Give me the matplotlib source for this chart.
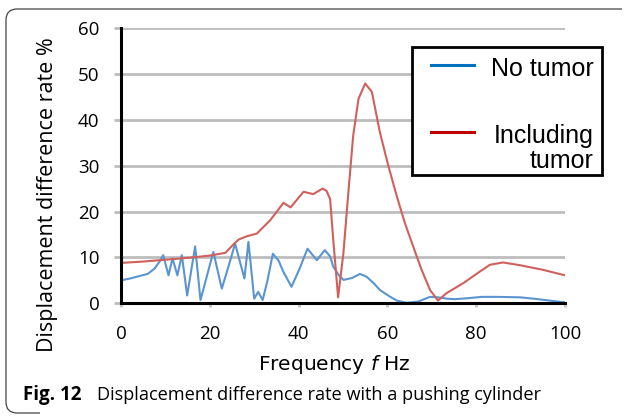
import matplotlib
matplotlib.use('Agg')
import matplotlib.pyplot as plt
from matplotlib.path import Path
from matplotlib.patches import PathPatch, Rectangle
from matplotlib.lines import Line2D

# data
freq_no_tumor = [0, 2, 4, 6, 7.5, 8.7, 9.5, 10.7, 11.6, 12.7, 13.7, 14.9, 16.7, 17.9, 19.5,
                 20.8, 22.7, 24.2, 25.7, 27.8, 28.7, 30.0, 30.9, 31.9, 33.0, 34.2, 35.5,
                 36.5, 38.4, 40.2, 42.0, 44.1, 45.9, 47.1, 47.8, 49.0, 50.1, 52.0, 53.8,
                 55.3, 57.0, 58.3, 60.5, 62.1, 64.3, 67, 69.6, 71.4, 73.5, 75.2, 78, 81.2,
                 85, 89.9, 93, 96.5, 100]
rate_no_tumor = [5.0, 5.4, 5.9, 6.4, 7.5, 9.1, 10.5, 6.1, 9.8, 6.1, 10.5, 1.7, 12.4, 0.7, 6.5,
                 11.2, 3.2, 8.0, 13.0, 5.4, 13.4, 1.0, 2.5, 0.7, 5.0, 10.8, 9.3,
                 7.0, 3.6, 7.5, 11.9, 9.4, 11.6, 10.2, 8.0, 6.2, 5.1, 5.5, 6.4,
                 5.8, 4.3, 2.9, 1.5, 0.6, 0.1, 0.4, 1.4, 1.3, 1.0, 0.9, 1.1, 1.4,
                 1.4, 1.3, 1.0, 0.6, 0.2]

freq_tumor = [0, 5, 10, 15, 20, 23.5, 25.5, 26.5, 28.3, 30.6, 33.6, 36.6, 38.2, 41.1,
              43.3, 45.4, 46.3, 47.1, 47.8, 48.9, 50.1, 51.2, 52.3, 53.5, 55.0, 56.5,
              58.3, 60.2, 62.1, 63.9, 65.8, 67.7, 69.6, 71.4, 73.3, 77.1, 80.8, 83.1,
              86, 89.9, 95, 100]
rate_tumor = [8.8, 9.1, 9.5, 9.9, 10.4, 11.0, 13.0, 13.9, 14.6, 15.2, 18.1, 21.9, 20.9, 24.3,
              23.8, 25.0, 24.5, 22.7, 13.9, 1.3, 11.0, 24.1, 36.6, 44.6, 47.9, 46.1,
              37.3, 30.0, 23.4, 17.6, 12.4, 7.3, 2.9, 0.6, 2.2, 4.4, 6.9, 8.4,
              8.9, 8.3, 7.3, 6.1]

x_ticks = [0, 20, 40, 60, 80, 100]
y_ticks = [0, 10, 20, 30, 40, 50, 60]
series_labels = ['No tumor', 'Including\ntumor']

W, H = 624, 416
fig = plt.figure(figsize=(W / 100, H / 100), dpi=100)


def fx(px):  # pixel -> figure fraction
    return px / W


def fy(py):
    return 1 - py / H


ax = fig.add_axes([fx(121), fy(303.3), 444 / W, (303.3 - 28) / H])
ax.plot(freq_no_tumor, rate_no_tumor, color='#5a95d0', lw=1.5, zorder=3,
        solid_joinstyle='round')
ax.plot(freq_tumor, rate_tumor, color='#d0605c', lw=1.5, zorder=3,
        solid_joinstyle='round')

ax.set_xlim(0, 100)
ax.set_ylim(0, 60)
ax.set_xticks(x_ticks)
ax.set_yticks(y_ticks)
for sp in ['top', 'right']:
    ax.spines[sp].set_visible(False)
for sp in ['left', 'bottom']:
    ax.spines[sp].set_linewidth(2.2)
    ax.spines[sp].set_capstyle('projecting')
    ax.spines[sp].set_zorder(4)
ax.yaxis.grid(True, color='#bdbdbd', lw=2)
ax.set_axisbelow(True)
ax.tick_params(axis='y', length=5, width=2, color='#bdbdbd', pad=10.5)
ax.tick_params(axis='x', length=3, width=2, color='#c8c8c8', pad=12.5)
for lab in ax.get_xticklabels() + ax.get_yticklabels():
    lab.set_family('Open Sans')
    lab.set_fontsize(13.5)

plt.rcParams['mathtext.fontset'] = 'dejavusans'

fig.text(fx(48), fy(194.5), 'Displacement difference rate %', rotation=90,
         ha='center', va='center', family='Open Sans', fontsize=15.5)
fig.text(fx(334), fy(370), 'Frequency $f$ Hz', ha='center', va='baseline',
         family='DejaVu Sans', fontsize=14.5)

# legend box drawn by hand (two-line label, right aligned)
fig.patches.append(Rectangle((fx(412), fy(175)), 190 / W, 128 / H, transform=fig.transFigure,
                             facecolor='white', edgecolor='black', lw=2, zorder=5))
fig.lines.append(Line2D([fx(431), fx(474)], [fy(65), fy(65)], transform=fig.transFigure,
                        color='#0070c0', lw=2.2, zorder=6))
fig.lines.append(Line2D([fx(431), fx(474)], [fy(132), fy(132)], transform=fig.transFigure,
                        color='#c00000', lw=2.2, zorder=6))
fig.text(fx(594), fy(76), series_labels[0], ha='right', va='baseline',
         family='Liberation Sans', fontsize=18, zorder=6)
fig.text(fx(594), fy(168), series_labels[1], ha='right', va='baseline', multialignment='right',
         family='Liberation Sans', fontsize=18, linespacing=1.05, zorder=6)

# caption
fig.text(fx(23), fy(400), 'Fig. 12', ha='left', va='baseline', family='Open Sans',
         weight='bold', fontsize=13.5)
fig.text(fx(97), fy(400), 'Displacement difference rate with a pushing cylinder', ha='left',
         va='baseline', family='Open Sans', fontsize=13.1)

# rounded frame
r = 11
verts = [(fx(622), fy(9)), (fx(6 + r), fy(9)), (fx(6), fy(9)), (fx(6), fy(9 + r)),
         (fx(6), fy(413 - r)), (fx(6), fy(413)), (fx(6 + r), fy(413)), (fx(40), fy(413))]
codes = [Path.MOVETO, Path.LINETO, Path.CURVE3, Path.CURVE3,
         Path.LINETO, Path.CURVE3, Path.CURVE3, Path.LINETO]
fig.patches.append(PathPatch(Path(verts, codes), transform=fig.transFigure, fill=False,
                             edgecolor='#444444', lw=0.9))

fig.savefig('out.png', dpi=100)
